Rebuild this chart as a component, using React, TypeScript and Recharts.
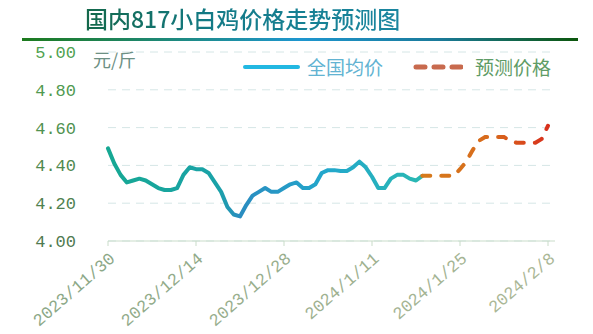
import React from "react";
import { LineChart, Line, XAxis, YAxis, CartesianGrid } from "recharts";

// daily labels 2023/11/30 .. 2024/2/8
const START = new Date(2023, 10, 30);
const DATES: string[] = Array.from({ length: 71 }, (_, i) => {
  const d = new Date(START.getFullYear(), START.getMonth(), START.getDate() + i);
  return `${d.getFullYear()}/${d.getMonth() + 1}/${d.getDate()}`;
});

// 全国均价 (2023/11/30 .. 2024/1/19)
const ACTUAL = [
  4.49, 4.41, 4.35, 4.31, 4.32, 4.33, 4.32, 4.3, 4.28, 4.27,
  4.27, 4.28, 4.35, 4.39, 4.38, 4.38, 4.36, 4.31, 4.26, 4.18,
  4.14, 4.13, 4.19, 4.24, 4.26, 4.28, 4.26, 4.26, 4.28, 4.3,
  4.31, 4.28, 4.28, 4.3, 4.36, 4.375, 4.375, 4.37, 4.37, 4.39,
  4.42, 4.39, 4.34, 4.28, 4.28, 4.33, 4.35, 4.35, 4.33, 4.32,
  4.345,
];

// 预测价格 (2024/1/19 .. 2024/2/8)
const FORECAST_START = 50;
const FORECAST = [
  4.345, 4.345, 4.345, 4.345, 4.345, 4.345, 4.38, 4.42, 4.48, 4.53,
  4.55, 4.55, 4.55, 4.55, 4.53, 4.52, 4.52, 4.52, 4.52, 4.54,
  4.61,
];

const Y_TICKS = [4, 4.2, 4.4, 4.6, 4.8, 5];

const data = DATES.map((date, i) => ({
  date,
  actual: i < ACTUAL.length ? ACTUAL[i] : null,
  forecast: i >= FORECAST_START ? FORECAST[i - FORECAST_START] : null,
}));

const MONO = "'Liberation Mono', 'DejaVu Sans Mono', monospace";
const CJK = "'Noto Sans CJK SC', sans-serif";

const YTick = ({ x, y, payload }: any) => {
  const shade = (payload.value - 4) / 1; // lighter green toward the top
  const g = Math.round(122 + shade * 40);
  return (
    <text x={x - 24} y={y} dy={6} textAnchor="end" fontFamily={MONO} fontSize={17} fill={`rgb(80,${g},80)`}>
      {payload.value.toFixed(2)}
    </text>
  );
};

const XTick = ({ x, y, payload, index }: any) => {
  const light = Math.min(index, 5) * 6;
  return (
    <g transform={`translate(${x + 8},${y + 12})`}>
      <text x={0} y={0} textAnchor="end" transform="rotate(-41)" fontFamily={MONO} fontSize={17}
        fill={`rgb(${140 + light},${168 + light / 2},${135 + light / 2})`}>
        {payload.value}
      </text>
    </g>
  );
};

const LegendBox = () => (
  <div style={{ position: "absolute", left: 243, top: 55, display: "flex", alignItems: "center", fontFamily: CJK, fontSize: 19, lineHeight: "24px" }}>
    <span style={{ display: "inline-block", width: 57, height: 4, borderRadius: 2, background: "#22b8e2" }} />
    <span style={{ color: "#62b3d2", marginLeft: 7 }}>全国均价</span>
    <svg width={50} height={6} style={{ marginLeft: 30 }}>
      <line x1={3} y1={3} x2={48} y2={3} stroke="#c86a4e" strokeWidth={5} strokeDasharray="9 9" strokeLinecap="round" />
    </svg>
    <span style={{ color: "#5f9c66", marginLeft: 12 }}>预测价格</span>
  </div>
);

export default function App() {
  return (
    <div style={{ position: "relative", width: 593, height: 334, background: "#fff", overflow: "hidden" }}>
      <style>{"body{margin:0}"}</style>
      <div
        style={{
          position: "absolute", left: 85, top: 1, fontFamily: CJK, fontSize: 23, fontWeight: 500,
          background: "linear-gradient(90deg, #14684a, #137a86 40%, #1a86a0)",
          WebkitBackgroundClip: "text", backgroundClip: "text", color: "transparent", whiteSpace: "nowrap",
        }}
      >
        国内817小白鸡价格走势预测图
      </div>
      <div
        style={{
          position: "absolute", left: 22, top: 38, width: 556, height: 3,
          background: "linear-gradient(90deg, #1d7a1d, #1e96cf 50%, #1a7a9a 75%, #0c560c)",
        }}
      />
      <div style={{ position: "absolute", left: 93, top: 46, fontFamily: CJK, fontSize: 18, color: "#6d9084" }}>
        元/斤
      </div>
      <LegendBox />
      <LineChart width={593} height={334} data={data} margin={{ top: 52, right: 38, left: 0, bottom: 0 }}>
        <defs>
          <linearGradient id="actualGrad" x1="0" y1="0" x2="1" y2="0">
            <stop offset="0%" stopColor="#16a893" />
            <stop offset="35%" stopColor="#1aa2a8" />
            <stop offset="42%" stopColor="#2a8cc0" />
            <stop offset="70%" stopColor="#22a8cc" />
            <stop offset="100%" stopColor="#2ab8b2" />
          </linearGradient>
          <linearGradient id="forecastGrad" x1="0" y1="0" x2="1" y2="0">
            <stop offset="0%" stopColor="#d67a1c" />
            <stop offset="55%" stopColor="#d86a1c" />
            <stop offset="100%" stopColor="#d8301c" />
          </linearGradient>
        </defs>
        <CartesianGrid vertical={false} stroke="#d5e6e6" strokeDasharray="8 6" />
        <XAxis
          dataKey="date"
          interval={13}
          height={93}
          padding={{ left: 0, right: 7 }}
          axisLine={{ stroke: "#c9dcc9" }}
          tickLine={{ stroke: "#c9dcc9" }}
          tickSize={5}
          tick={<XTick />}
        />
        <YAxis
          domain={[4, 5]}
          ticks={Y_TICKS}
          width={108}
          axisLine={false}
          tickLine={false}
          tick={<YTick />}
        />
        <Line
          dataKey="actual"
          stroke="url(#actualGrad)"
          strokeWidth={4}
          dot={false}
          type="linear"
          strokeLinejoin="round"
          strokeLinecap="round"
          connectNulls={false}
          isAnimationActive={false}
        />
        <Line
          dataKey="forecast"
          stroke="url(#forecastGrad)"
          strokeWidth={4}
          strokeDasharray="8 11"
          strokeLinecap="round"
          dot={false}
          type="linear"
          connectNulls={false}
          isAnimationActive={false}
        />
      </LineChart>
    </div>
  );
}
